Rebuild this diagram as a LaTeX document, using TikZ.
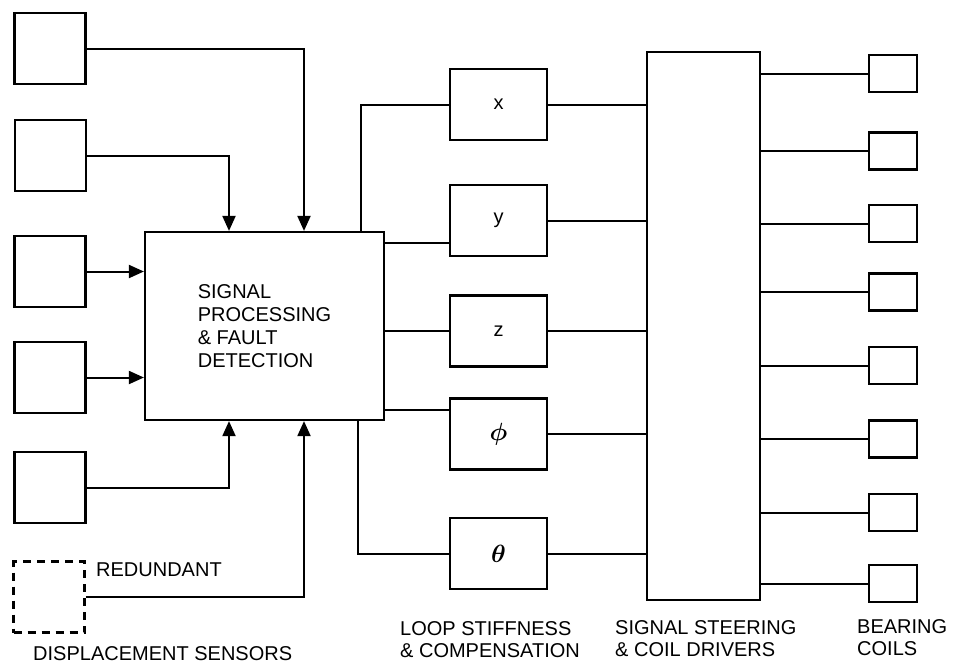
\documentclass[tikz,border=0pt]{standalone}
\usepackage{amsmath}
\usepackage{fontspec}
\setmainfont{Liberation Sans}
\usetikzlibrary{positioning, arrows.meta, calc}

\begin{document}
\begin{tikzpicture}[x=1pt, y=-1pt,
    box/.style={draw, line width=2.2pt, inner sep=0pt},
    sensor/.style={box, minimum width=71pt, minimum height=71pt},
    loopbox/.style={box, minimum width=97pt, minimum height=71pt, font=\fontsize{20}{22}\selectfont},
    coil/.style={box, minimum width=48pt, minimum height=37pt},
    wire/.style={line width=2pt},
    feed/.style={wire, -{Triangle[length=15pt, width=13pt]}},
    lbl/.style={font=\fontsize{20}{22}\selectfont, inner sep=0pt, align=left}]
  \useasboundingbox (0,0) rectangle (955,665);

  % Displacement sensors
  \node[sensor] (s1) at (50,48.5) {};
  \node[sensor] (s2) at (50.5,155.5) {};
  \node[sensor] (s3) at (50,271.5) {};
  \node[sensor] (s4) at (50,377.5) {};
  \node[sensor] (s5) at (50,487.5) {};
  \node[sensor, dash pattern=on 8pt off 6pt] (sr) at (49,597) {};

  % Processor
  \node[box, lbl, font=\fontsize{20}{23}\selectfont, minimum width=239pt, minimum height=188pt] (main) at (264.5,326)
    {SIGNAL\\PROCESSING\\\& FAULT\\DETECTION};

  % Loop stiffness blocks
  \node[loopbox] (xb) at (498.5,104.5) {x};
  \node[loopbox] (yb) at (498.5,220.5) {y};
  \node[loopbox] (zb) at (498.5,331) {z};
  \node[loopbox, font=\fontsize{23}{25}\selectfont] (pb) at (498.5,434) {$\boldsymbol{\phi}$};
  \node[loopbox, font=\fontsize{23}{25}\selectfont] (tb) at (498.5,553.5) {$\boldsymbol{\theta}$};

  % Steering and coils
  \node[box, minimum width=113pt, minimum height=548pt] (steer) at (703.5,326) {};
  \foreach \i/\yy in {1/73.5, 2/151, 3/223.5, 4/292, 5/365.5, 6/439, 7/512.5, 8/583.5} {
    \node[coil] (c\i) at (893,\yy) {};
    \draw[wire] (steer.east |- c\i.west) -- (c\i.west);
  }

  % Sensors into the processor
  \draw[feed] (s1.east) -| ([xshift=39.5pt]main.north);
  \draw[feed] (s2.east) -| ([xshift=-35.5pt]main.north);
  \draw[feed] (s3.east) -- (main.west |- s3.east);
  \draw[feed] (s4.east) -- (main.west |- s4.east);
  \draw[feed] (s5.east) -| ([xshift=-35.5pt]main.south);
  \draw[feed] (sr.east) -| ([xshift=39.5pt]main.south);

  % Processor to loop blocks
  \draw[wire] ([xshift=96.5pt]main.north) |- (xb.west);
  \coordinate (yin) at ([yshift=-22.5pt]yb.west);
  \draw[wire] (main.east |- yin) -- (yin);
  \draw[wire] (main.east |- zb.west) -- (zb.west);
  \coordinate (pin) at ([yshift=24pt]pb.west);
  \draw[wire] (main.east |- pin) -- (pin);
  \draw[wire] ([xshift=93.5pt]main.south) |- (tb.west);

  % Loop blocks to steering
  \foreach \b in {xb,yb,zb,pb,tb}
    \draw[wire] (\b.east) -- (steer.west |- \b.east);

  % Labels
  \node[lbl, anchor=north west] (redund) at (96,563) {REDUNDANT};
  \node[lbl, anchor=north west] (senslbl) at (33,646) {DISPLACEMENT SENSORS};
  \node[lbl, anchor=north west] (looplbl) at (400,621) {LOOP STIFFNESS\\\& COMPENSATION};
  \node[lbl, anchor=north west] (steerlbl) at (615,620) {SIGNAL STEERING\\\& COIL DRIVERS};
  \node[lbl, anchor=north west] (coillbl) at (857,619) {BEARING\\COILS};
\end{tikzpicture}
\end{document}
